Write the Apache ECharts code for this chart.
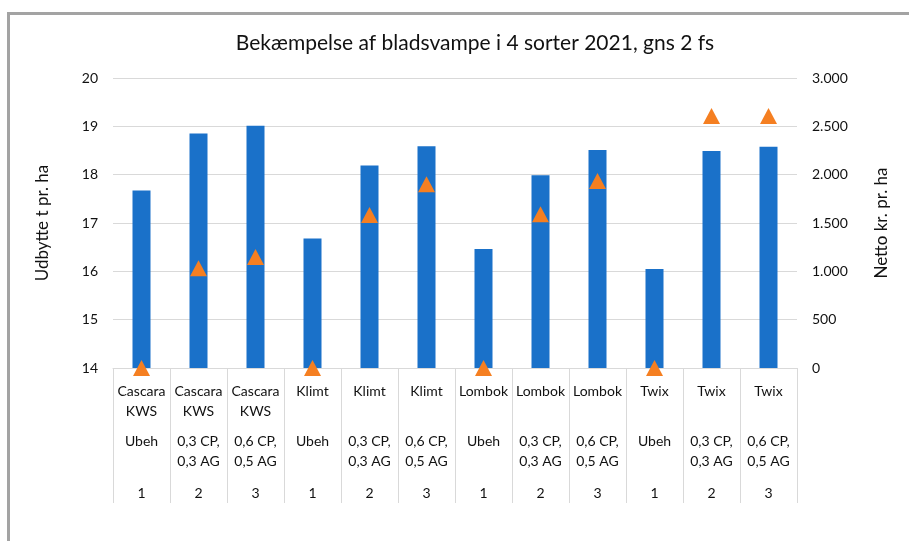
<!DOCTYPE html>
<html>
<head>
<meta charset="utf-8">
<script src="https://cdn.jsdelivr.net/npm/echarts@6/dist/echarts.min.js"></script>
<style>
  html, body { margin: 0; padding: 0; background: #fff; }
  #chart { width: 909px; height: 541px; }
</style>
</head>
<body>
<div id="chart"></div>
<script>
const varieties = ['Cascara\nKWS', 'Cascara\nKWS', 'Cascara\nKWS', 'Klimt', 'Klimt', 'Klimt',
  'Lombok', 'Lombok', 'Lombok', 'Twix', 'Twix', 'Twix']
const treatments = ['Ubeh', '0,3 CP,\n0,3 AG', '0,6 CP,\n0,5 AG', 'Ubeh', '0,3 CP,\n0,3 AG', '0,6 CP,\n0,5 AG',
  'Ubeh', '0,3 CP,\n0,3 AG', '0,6 CP,\n0,5 AG', 'Ubeh', '0,3 CP,\n0,3 AG', '0,6 CP,\n0,5 AG']
const reps = ['1', '2', '3', '1', '2', '3', '1', '2', '3', '1', '2', '3']
const yieldT = [17.67, 18.85, 19.01, 16.68, 18.19, 18.59, 16.46, 17.99, 18.51, 16.05, 18.49, 18.58]
const netto = [0, 1031, 1148, 0, 1583, 1900, 0, 1590, 1934, 0, 2607, 2607]

const font = 'Lato, "Open Sans", sans-serif'
const gridColor = '#d9d9d9'
const labelStyle = { color: '#111', fontSize: 14, fontFamily: font, lineHeight: 20, interval: 0, verticalAlign: 'top' }

const chart = echarts.init(document.getElementById('chart'))
chart.setOption({
  animation: false,
  title: {
    text: 'Bekæmpelse af bladsvampe i 4 sorter 2021, gns 2 fs',
    left: 470, top: 28, textAlign: 'center',
    textStyle: { color: '#111', fontSize: 21, fontWeight: 'normal', fontFamily: font }
  },
  graphic: [
    { type: 'rect', shape: { x: 7, y: 12, width: 3, height: 529 }, style: { fill: '#a3a3a3' } },
    { type: 'rect', shape: { x: 7, y: 12, width: 902, height: 3 }, style: { fill: '#a3a3a3' } }
  ],
  grid: { left: 113, right: 112, top: 78, bottom: 173 },
  xAxis: [
    {
      type: 'category', data: varieties, position: 'bottom',
      axisLine: { show: true, lineStyle: { color: gridColor } },
      axisTick: { show: true, length: 135, interval: 0, alignWithLabel: false, lineStyle: { color: gridColor } },
      axisLabel: Object.assign({ margin: 13 }, labelStyle)
    },
    {
      type: 'category', data: treatments, position: 'bottom', offset: 63,
      axisLine: { show: false }, axisTick: { show: false },
      axisLabel: Object.assign({ margin: 0 }, labelStyle)
    },
    {
      type: 'category', data: reps, position: 'bottom', offset: 115,
      axisLine: { show: false }, axisTick: { show: false },
      axisLabel: Object.assign({ margin: 0 }, labelStyle)
    }
  ],
  yAxis: [
    {
      type: 'value', min: 14, max: 20, interval: 1,
      name: 'Udbytte t pr. ha', nameLocation: 'middle', nameGap: 62, nameRotate: 90,
      nameTextStyle: { color: '#111', fontSize: 17, fontFamily: font },
      axisLine: { show: false }, axisTick: { show: false },
      axisLabel: { color: '#111', fontSize: 14, fontFamily: font, margin: 15 },
      splitLine: { lineStyle: { color: gridColor } }
    },
    {
      type: 'value', min: 0, max: 3000, interval: 500, position: 'right',
      name: 'Netto kr. pr. ha', nameLocation: 'middle', nameGap: 76, nameRotate: 90,
      nameTextStyle: { color: '#111', fontSize: 17, fontFamily: font },
      axisLine: { show: false }, axisTick: { show: false },
      axisLabel: {
        color: '#111', fontSize: 14, fontFamily: font, margin: 15,
        formatter: v => v >= 1000 ? Math.floor(v / 1000) + '.' + String(v % 1000).padStart(3, '0') : String(v)
      },
      splitLine: { show: false }
    }
  ],
  series: [
    {
      name: 'Udbytte', type: 'bar', data: yieldT, xAxisIndex: 0, yAxisIndex: 0,
      barWidth: 18, itemStyle: { color: '#1a71c9' }
    },
    {
      name: 'Netto', type: 'scatter', data: netto, xAxisIndex: 0, yAxisIndex: 1,
      symbol: 'triangle', symbolSize: [17, 16], clip: false,
      itemStyle: { color: '#f57f21', opacity: 1 }
    }
  ]
})
</script>
</body>
</html>
